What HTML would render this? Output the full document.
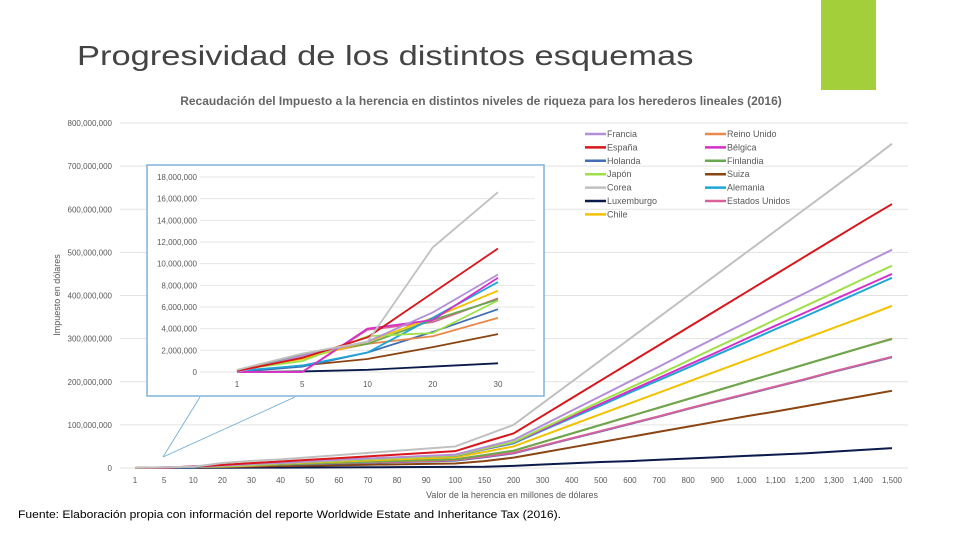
<!DOCTYPE html>
<html><head><meta charset="utf-8"><style>
body{margin:0;width:960px;height:540px;background:#fff;overflow:hidden;font-family:"Liberation Sans",sans-serif;position:relative}
</style></head><body>
<div style="position:absolute;left:77px;top:40px;font-size:28px;color:#444;transform:scaleX(1.23);transform-origin:0 0;white-space:nowrap">Progresividad de los distintos esquemas</div>
<div style="position:absolute;left:821px;top:0;width:55px;height:90px;background:#a2cf3a"></div>
<div style="position:absolute;left:18px;top:509px;font-size:11px;color:#000;transform:scaleX(1.1);transform-origin:0 0;white-space:nowrap">Fuente: Elaboración propia con información del reporte Worldwide Estate and Inheritance Tax (2016).</div>
<svg id="chart" width="960" height="540" style="position:absolute;left:0;top:0" font-family="Liberation Sans, sans-serif"></svg>
<script>
const categories=["1","5","10","20","30","40","50","60","70","80","90","100","150","200","300","400","500","600","700","800","900","1,000","1,100","1,200","1,300","1,400","1,500"];
const yTicks=[0,100,200,300,400,500,600,700,800];
const insetCats=["1","5","10","20","30"];
const insetTicks=[0,2,4,6,8,10,12,14,16,18];
const names=["Francia","Reino Unido","España","Bélgica","Holanda","Finlandia","Japón","Suiza","Corea","Alemania","Luxemburgo","Estados Unidos","Chile"];
const colors=["#b48fd8","#e8894a","#d8161b","#d430c8","#3f6eb5","#6aa84f","#9fe04a","#8b4513","#c0c0c0","#1ea6d6","#0a1a4a","#d9609a","#f2c200"];
// values in millions USD
const francia=[0,1.5,2.8,5.5,9.0,12,15,19,22,25,28,31,48,65,99,133,167,201,235,270,304,338,372,405,439,473,506];
const reinoUnido=[0.1,1.4,2.6,3.3,5.0,8,10,12,14,16,18,20,30,40,60,80,100,120,140,160,180,200,220,240,260,280,300];
const espana=[0.1,1.3,3.2,7.3,11.4,15,19,23,27,31,35,39,60,80,121,162,203,244,285,326,367,408,449,490,531,572,612];
const belgica=[0,0,4.0,4.8,8.7,11,14,17,20,23,26,29,44,59,89,119,149,179,209,239,269,300,330,360,390,420,450];
const holanda=[0,0.5,1.8,3.7,5.8,7.5,9,10.5,12,13.5,15,17,25,34,51,68,85,102,119,137,154,171,188,205,223,240,257];
const finlandia=[0.1,1.6,2.6,4.8,6.7,8.5,10.5,12.5,14.5,16.5,18.5,20,30,40,60,80,100,120,140,160,180,200,220,240,260,280,299];
const japon=[0.2,1.0,3.3,3.6,6.6,11,14,17,20,23,26,29,45,60,92,123,155,186,217,249,281,312,344,375,406,438,469];
const suiza=[0,0.6,1.2,2.3,3.5,4.5,5.5,6.5,7.5,8.5,9.5,10.5,16,24,36,48,60,72,84,96,108,120,131,143,155,167,179];
const corea=[0.2,1.7,2.8,11.5,16.6,20,25,30,35,40,45,50,75,100,150,200,250,300,350,400,450,500,550,600,650,700,752];
const alemania=[0.1,0.6,1.8,5,8.3,11,14,17,20,23,26,28,43,57,87,116,145,175,204,233,263,292,322,351,381,411,441];
const luxemburgo=[0,0.05,0.2,0.5,0.8,1,1.2,1.5,1.7,2,2.2,2.5,3,5,8,11,14,16,19,22,25,28,31,34,38,42,46];
const eeuu=[0,0,3.9,4.6,6.8,8.5,10,11.5,13,14.5,16,18.5,26,35,52,69,86,103,120,138,155,172,189,206,224,241,258];
const chile=[0.2,1.2,2.8,5,7.5,10,12.5,15,17.5,20,22.5,25,37,50,75,100,125,150,175,200,225,250,275,300,325,350,376];
const series=[francia,reinoUnido,espana,belgica,holanda,finlandia,japon,suiza,corea,alemania,luxemburgo,eeuu,chile];
const drawOrder=[10,7,4,11,1,5,12,9,3,6,0,2,8];
const NS="http://www.w3.org/2000/svg";
const svg=document.getElementById('chart');
function mk(t,a,p){const e=document.createElementNS(NS,t);for(const k in a)e.setAttribute(k,a[k]);(p||svg).appendChild(e);return e;}
const X=i=>135+i*(892-135)/(categories.length-1);
const Y=v=>468-v*(468-123)/800;
let t=mk('text',{x:481,y:105,'text-anchor':'middle','font-size':12,fill:'#666','font-weight':'bold'});t.textContent='Recaudación del Impuesto a la herencia en distintos niveles de riqueza para los herederos lineales (2016)';

yTicks.forEach(v=>{
  const g=mk('line',{x1:120,x2:908,y1:Y(v),y2:Y(v),stroke:'#e3e3e3','stroke-width':1});
  
  const l=mk('text',{x:112,y:Y(v)+3,'text-anchor':'end','font-size':8,fill:'#595959'});
  l.textContent=v===0?'0':(v*1000000).toLocaleString('en-US');
  
});
categories.forEach((c,i)=>{const l=mk('text',{x:X(i),y:483,'text-anchor':'middle','font-size':8,fill:'#595959'});l.textContent=c;
  });
t=mk('text',{x:512,y:498,'text-anchor':'middle','font-size':9,fill:'#595959'});t.textContent='Valor de la herencia en millones de dólares';

t=mk('text',{x:60,y:295,'text-anchor':'middle','font-size':9,fill:'#595959',transform:'rotate(-90 60 295)'});t.textContent='Impuesto en dólares';

drawOrder.forEach(k=>{const p=mk('polyline',{points:series[k].map((v,i)=>X(i)+','+Y(v)).join(' '),fill:'none',stroke:colors[k],'stroke-width':2});
  });
names.forEach((n,k)=>{const col=k%2,row=Math.floor(k/2);const lx=585+col*120,ly=134+row*13.4;
  const g=mk('g',{});
  mk('line',{x1:lx,x2:lx+21,y1:ly,y2:ly,stroke:colors[k],'stroke-width':2.5},g);
  const tt=mk('text',{x:lx+22,y:ly+3,'font-size':9,fill:'#595959'},g);tt.textContent=n;});
mk('line',{x1:163,y1:457,x2:200,y2:397,stroke:'#6aaad0','stroke-width':0.8});
mk('line',{x1:163,y1:457,x2:295,y2:397,stroke:'#6aaad0','stroke-width':0.8});
const ins=mk('rect',{x:147,y:165,width:397,height:231,fill:'#fff',stroke:'#7fb2d9','stroke-width':1.5});

const IX=i=>237+i*(498-237)/(insetCats.length-1);
const IY=v=>372-v*(372-177)/18;
insetTicks.forEach(v=>{mk('line',{x1:200,x2:535,y1:IY(v),y2:IY(v),stroke:'#e6e6e6'});
  const l=mk('text',{x:197,y:IY(v)+3,'text-anchor':'end','font-size':8,fill:'#595959'});l.textContent=v===0?'0':(v*1000000).toLocaleString('en-US');
  });
insetCats.forEach((c,i)=>{const l=mk('text',{x:IX(i),y:387,'text-anchor':'middle','font-size':8,fill:'#595959'});l.textContent=c;
  });
drawOrder.forEach(k=>{const p=mk('polyline',{points:series[k].slice(0,insetCats.length).map((v,i)=>IX(i)+','+IY(v)).join(' '),fill:'none',stroke:colors[k],'stroke-width':1.8});
  });
</script>
</body></html>
